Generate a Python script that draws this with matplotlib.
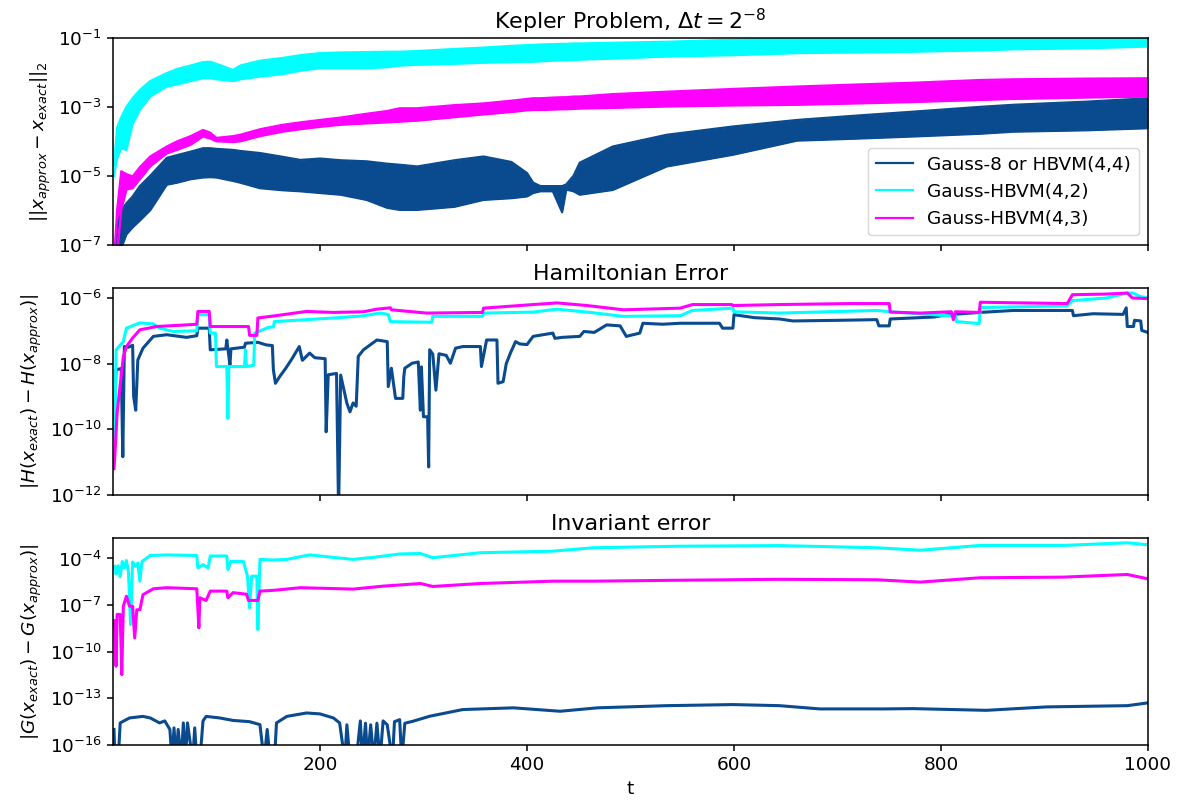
import numpy as np
import matplotlib
matplotlib.use("Agg")
import matplotlib.pyplot as plt
from matplotlib.ticker import NullLocator

plt.rcParams["font.size"] = 13.3
plt.rcParams["axes.linewidth"] = 1.1

BLUE = "#0a4a8f"
CYAN = "#00ffff"
MAGENTA = "#ff00ff"
labels = ["Gauss-8 or HBVM(4,4)", "Gauss-HBVM(4,2)", "Gauss-HBVM(4,3)"]

# ---- solution error: oscillation band (log10 of lower / upper envelope)
t_sol = [1, 4, 8, 13, 19, 26, 36, 52, 62, 75, 87, 94, 100, 116, 123, 142, 164, 181,
         200, 220, 245, 265, 277, 294, 330, 358, 385, 400, 406, 413, 425, 434, 438,
         445, 451, 483, 535, 599, 661, 720, 773, 838, 870, 940, 1000]
g8_hi = [-7.5, -6.6, -6.0, -5.8, -5.6, -5.3, -5.0, -4.48, -4.4, -4.3, -4.2, -4.2, -4.22,
         -4.25, -4.28, -4.34, -4.45, -4.54, -4.5, -4.55, -4.58, -4.65, -4.68, -4.73,
         -4.55, -4.44, -4.6, -4.92, -5.2, -5.3, -5.3, -5.3, -5.25, -5.0, -4.62, -4.15,
         -3.81, -3.57, -3.38, -3.25, -3.14, -3.0, -2.94, -2.85, -2.75]
g8_lo = [-7.5, -7.4, -7.1, -6.7, -6.5, -6.3, -6.0, -5.26, -5.2, -5.1, -5.05, -5.04, -5.05,
         -5.15, -5.2, -5.36, -5.42, -5.45, -5.5, -5.55, -5.7, -5.93, -5.99, -5.99,
         -5.9, -5.7, -5.65, -5.6, -5.5, -5.45, -5.45, -6.06, -5.4, -5.45, -5.55, -5.41,
         -4.73, -4.39, -3.98, -3.92, -3.86, -3.78, -3.72, -3.68, -3.62]
h42_hi = [-4.7, -3.6, -3.3, -3.0, -2.75, -2.51, -2.25, -2.02, -1.9, -1.8, -1.7, -1.69,
          -1.75, -1.93, -1.8, -1.66, -1.58, -1.5, -1.44, -1.42, -1.41, -1.4, -1.4, -1.38,
          -1.32, -1.28, -1.23, -1.21, -1.2, -1.19, -1.18, -1.17, -1.17, -1.16, -1.16,
          -1.14, -1.11, -1.05, -1.01, -0.98, -0.97, -0.96, -0.96, -0.96, -0.96]
h42_lo = [-5.0, -4.5, -4.2, -4.25, -3.5, -3.09, -2.7, -2.41, -2.35, -2.25, -2.17, -2.17,
          -2.2, -2.25, -2.2, -2.12, -2.05, -1.95, -1.88, -1.88, -1.88, -1.85, -1.8, -1.78,
          -1.75, -1.72, -1.7, -1.69, -1.69, -1.68, -1.66, -1.65, -1.65, -1.64, -1.63,
          -1.6, -1.54, -1.5, -1.44, -1.42, -1.4, -1.36, -1.33, -1.3, -1.25]
h43_hi = [-7.5, -6.0, -4.87, -4.95, -5.02, -4.75, -4.44, -4.15, -4.0, -3.85, -3.67, -3.75,
          -3.9, -3.85, -3.81, -3.65, -3.52, -3.45, -3.38, -3.31, -3.2, -3.12, -3.04, -3.04,
          -2.95, -2.9, -2.82, -2.77, -2.75, -2.75, -2.73, -2.72, -2.72, -2.7, -2.7,
          -2.63, -2.56, -2.48, -2.41, -2.35, -2.3, -2.22, -2.2, -2.18, -2.17]
h43_lo = [-7.5, -7.3, -6.0, -5.4, -5.36, -5.1, -4.73, -4.35, -4.25, -4.1, -3.86, -3.92,
          -4.0, -4.02, -4.0, -3.85, -3.72, -3.65, -3.58, -3.52, -3.48, -3.45, -3.43, -3.4,
          -3.3, -3.22, -3.15, -3.1, -3.09, -3.09, -3.08, -3.07, -3.07, -3.06, -3.05,
          -3.03, -2.99, -2.96, -2.94, -2.9, -2.86, -2.8, -2.77, -2.73, -2.7]

# ---- Hamiltonian error (log10)
ham_g8 = [(1, -9.7), (3, -8.19), (8, -8.15), (9.5, -10.84), (11, -7.48), (15, -7.5),
          (19, -7.44), (20, -9.01), (22, -9.42), (24, -7.89), (29, -7.53), (39, -7.17),
          (52, -7.12), (71, -7.2), (81, -7.15), (82, -6.92), (93, -6.92), (94, -7.58),
          (109, -7.55), (110, -7.28), (111, -7.53), (113, -8.04), (114, -7.55), (127, -7.5),
          (128, -7.38), (140, -7.35), (148, -7.43), (154, -7.45), (155, -8.19), (157, -8.6),
          (161, -8.4), (167, -8.14), (173, -7.85), (180, -7.48), (183, -7.9), (190, -7.68),
          (195, -7.82), (205, -7.85), (206, -10.08), (208, -8.34), (216, -8.3), (218, -12.5),
          (220, -8.35), (226, -9.21), (229, -9.47), (232, -9.2), (235, -9.3), (237, -7.78),
          (242, -7.58), (255, -7.28), (265, -7.33), (266, -8.7), (269, -8.14), (273, -9.06),
          (280, -9.06), (281, -8.4), (282, -8.14), (289, -7.99), (295, -7.95), (297, -9.42),
          (298, -8.1), (300, -9.62), (304, -9.62), (305, -11.15), (306, -7.58), (309, -7.71),
          (312, -8.81), (315, -7.7), (322, -7.75), (326, -7.99), (331, -7.53), (338, -7.48),
          (355, -7.48), (356, -8.09), (361, -7.28), (371, -7.28), (372, -8.6), (377, -8.55),
          (380, -8.0), (384, -7.68), (389, -7.33), (393, -7.4), (400, -7.42), (406, -7.17),
          (425, -7.07), (427, -7.23), (434, -7.2), (451, -7.17), (455, -7.02), (465, -7.05),
          (477, -6.82), (490, -6.85), (496, -7.17), (509, -7.07), (512, -6.77), (531, -6.8),
          (548, -6.77), (586, -6.77), (589, -6.92), (599, -6.92), (600, -6.51), (620, -6.6),
          (644, -6.64), (657, -6.7), (702, -6.68), (738, -6.66), (740, -6.85), (750, -6.85),
          (751, -6.64), (793, -6.58), (806, -6.51), (838, -6.44), (870, -6.38), (927, -6.38),
          (928, -6.54), (947, -6.48), (976, -6.5), (979, -6.3), (980, -6.87), (986, -6.87),
          (987, -6.68), (993, -6.7), (994, -6.99), (1000, -7.05)]
ham_h42 = [(1, -10.3), (2, -9.62), (3, -7.58), (10, -7.33), (13, -6.92), (26, -6.76),
           (39, -6.79), (45, -6.92), (58, -7.02), (81, -7.0), (82, -6.51), (93, -6.51),
           (94, -7.07), (99, -7.07), (100, -8.09), (110, -8.09), (111, -9.67), (112, -8.09),
           (127, -8.09), (128, -7.58), (129, -8.09), (136, -8.05), (137, -7.07), (150, -6.9),
           (155, -6.88), (156, -6.72), (213, -6.61), (240, -6.55), (258, -6.46), (266, -6.5),
           (268, -6.72), (308, -6.74), (309, -6.56), (357, -6.56), (358, -6.46), (406, -6.43),
           (429, -6.34), (461, -6.44), (493, -6.56), (548, -6.54), (560, -6.38), (599, -6.31),
           (600, -6.42), (644, -6.46), (738, -6.38), (751, -6.42), (806, -6.54), (814, -6.54),
           (815, -6.72), (837, -6.78), (838, -6.29), (922, -6.24), (927, -6.08), (960, -6.0),
           (980, -5.85), (986, -5.85), (992, -5.95), (1000, -6.0)]
ham_h43 = [(1, -11.2), (2, -10.69), (4, -9.5), (10, -7.79), (13, -7.48), (19, -7.22),
           (26, -6.97), (42, -6.87), (71, -6.82), (81, -6.8), (82, -6.41), (93, -6.41),
           (94, -6.87), (131, -6.87), (132, -7.14), (139, -7.14), (140, -6.61), (155, -6.55),
           (187, -6.41), (213, -6.44), (242, -6.42), (255, -6.34), (268, -6.3), (269, -6.36),
           (303, -6.46), (357, -6.44), (358, -6.31), (406, -6.2), (429, -6.15), (458, -6.23),
           (493, -6.36), (548, -6.31), (560, -6.2), (598, -6.2), (599, -6.23), (644, -6.2),
           (712, -6.17), (750, -6.17), (751, -6.43), (780, -6.46), (810, -6.42), (812, -6.66),
           (814, -6.42), (837, -6.44), (838, -6.13), (922, -6.17), (927, -5.9), (960, -5.88),
           (980, -5.85), (985, -6.0), (1000, -6.02)]

# ---- invariant error (log10)
inv_g8 = [(1, -15.0), (2, -17), (5, -17), (7, -14.58), (16, -14.26), (29, -14.16),
          (36, -14.26), (45, -14.58), (50, -14.45), (55, -15.0), (57, -17), (59, -14.9),
          (61, -17), (63, -15.0), (66, -17), (68, -14.58), (70, -17), (72, -14.58), (77, -17),
          (79, -14.9), (81, -17), (84, -17), (87, -14.45), (90, -14.16), (103, -14.26),
          (116, -14.42), (132, -14.5), (142, -14.69), (146, -17), (149, -15.0), (152, -17),
          (156, -17), (158, -14.58), (168, -14.16), (187, -13.94), (200, -14.0), (213, -14.26),
          (219, -14.58), (224, -17), (226, -14.7), (229, -17), (235, -17), (239, -14.45),
          (241, -17), (244, -14.6), (246, -17), (249, -14.7), (252, -17), (255, -14.6),
          (258, -17), (261, -14.45), (265, -14.7), (270, -17), (272, -14.5), (277, -14.37),
          (279, -17), (282, -14.6), (290, -14.47), (306, -14.15), (338, -13.72), (387, -13.61),
          (432, -13.83), (468, -13.61), (535, -13.47), (599, -13.4), (644, -13.47),
          (683, -13.68), (744, -13.68), (773, -13.66), (844, -13.77), (902, -13.55),
          (980, -13.47), (1000, -13.29)]
inv_h42 = [(1, -4.6), (2, -4.49), (3, -5.0), (5, -4.47), (7, -5.17), (9, -4.2), (11, -4.6),
           (13, -4.13), (15, -4.9), (17, -8.25), (19, -4.23), (22, -4.5), (24, -4.3),
           (26, -5.46), (28, -4.2), (36, -3.81), (52, -3.77), (81, -3.81), (82, -4.6),
           (87, -4.4), (92, -4.6), (94, -3.84), (110, -3.84), (111, -4.71), (114, -4.19),
           (126, -4.19), (130, -5.14), (132, -7.18), (134, -5.14), (139, -5.14), (140, -8.57),
           (142, -4.06), (155, -4.1), (168, -4.06), (190, -3.77), (232, -4.06), (255, -3.9),
           (277, -3.71), (297, -3.68), (309, -3.95), (355, -3.63), (425, -3.53), (464, -3.31),
           (548, -3.21), (644, -3.17), (738, -3.31), (780, -3.47), (838, -3.16), (918, -3.16),
           (980, -2.99), (1000, -3.12)]
inv_h43 = [(1, -8.0), (2, -8.57), (3, -10.93), (4, -7.6), (7, -7.6), (8.5, -11.47),
           (10, -7.07), (13, -6.43), (16, -7.07), (19, -7.07), (21, -9.11), (23, -7.3),
           (26, -7.3), (29, -6.33), (39, -5.95), (52, -5.88), (81, -5.95), (83, -8.46),
           (84, -6.53), (90, -6.7), (94, -6.1), (110, -6.1), (111, -6.53), (116, -6.2),
           (129, -6.3), (131, -6.7), (140, -6.7), (142, -6.1), (155, -6.05), (181, -5.88),
           (232, -5.97), (261, -5.78), (297, -5.61), (309, -5.8), (355, -5.61), (425, -5.46),
           (464, -5.46), (548, -5.4), (644, -5.34), (738, -5.37), (780, -5.52), (838, -5.24),
           (918, -5.2), (980, -5.03), (1000, -5.31)]


def split(pairs):
    a = np.array(pairs, dtype=float)
    return a[:, 0], 10.0 ** a[:, 1]


fig, axes = plt.subplots(3, 1, sharex=True, figsize=(11.78, 8.06), dpi=100)
fig.subplots_adjust(left=0.0959, right=0.9745, top=0.9529, bottom=0.0757, hspace=0.21)
ax1, ax2, ax3 = axes

t = np.array(t_sol, dtype=float)
for lo, hi, c, lab in [(g8_lo, g8_hi, BLUE, labels[0]),
                       (h42_lo, h42_hi, CYAN, labels[1]),
                       (h43_lo, h43_hi, MAGENTA, labels[2])]:
    lo = 10.0 ** np.array(lo)
    hi = 10.0 ** np.array(hi)
    ax1.fill_between(t, lo, hi, color=c, lw=0)
    ax1.plot(t, hi, color=c, lw=1.6, label=lab)
    ax1.plot(t, lo, color=c, lw=1.6)
ax1.set_yscale("log")
ax1.set_ylim(1e-7, 1e-1)
ax1.set_yticks([1e-7, 1e-5, 1e-3, 1e-1])
ax1.set_ylabel(r"$||x_{approx} - x_{exact}||_2$")
ax1.set_title(r"Kepler Problem, $\Delta t = 2^{-8}$")
ax1.legend(loc="lower right", handlelength=2.0)

for pairs, c in [(ham_g8, BLUE), (ham_h42, CYAN), (ham_h43, MAGENTA)]:
    x, y = split(pairs)
    ax2.plot(x, y, color=c, lw=2.2)
ax2.set_yscale("log")
ax2.set_ylim(1e-12, 2e-6)
ax2.set_yticks([1e-12, 1e-10, 1e-8, 1e-6])
ax2.set_ylabel(r"$|H(x_{exact}) - H(x_{approx})|$")
ax2.set_title("Hamiltonian Error")

for pairs, c in [(inv_g8, BLUE), (inv_h42, CYAN), (inv_h43, MAGENTA)]:
    x, y = split(pairs)
    ax3.plot(x, y, color=c, lw=2.2)
ax3.set_yscale("log")
ax3.set_ylim(1e-16, 2e-3)
ax3.set_yticks([1e-16, 1e-13, 1e-10, 1e-7, 1e-4])
ax3.set_ylabel(r"$|G(x_{exact}) - G(x_{approx})|$")
ax3.set_title("Invariant error")
ax3.set_xlabel("t")

for ax in axes:
    ax.yaxis.set_minor_locator(NullLocator())
    ax.tick_params(length=4.5, width=1.1)
ax3.set_xlim(2 ** -8, 1000)
ax3.set_xticks([200, 400, 600, 800, 1000])

fig.savefig("out.png", dpi=100)
